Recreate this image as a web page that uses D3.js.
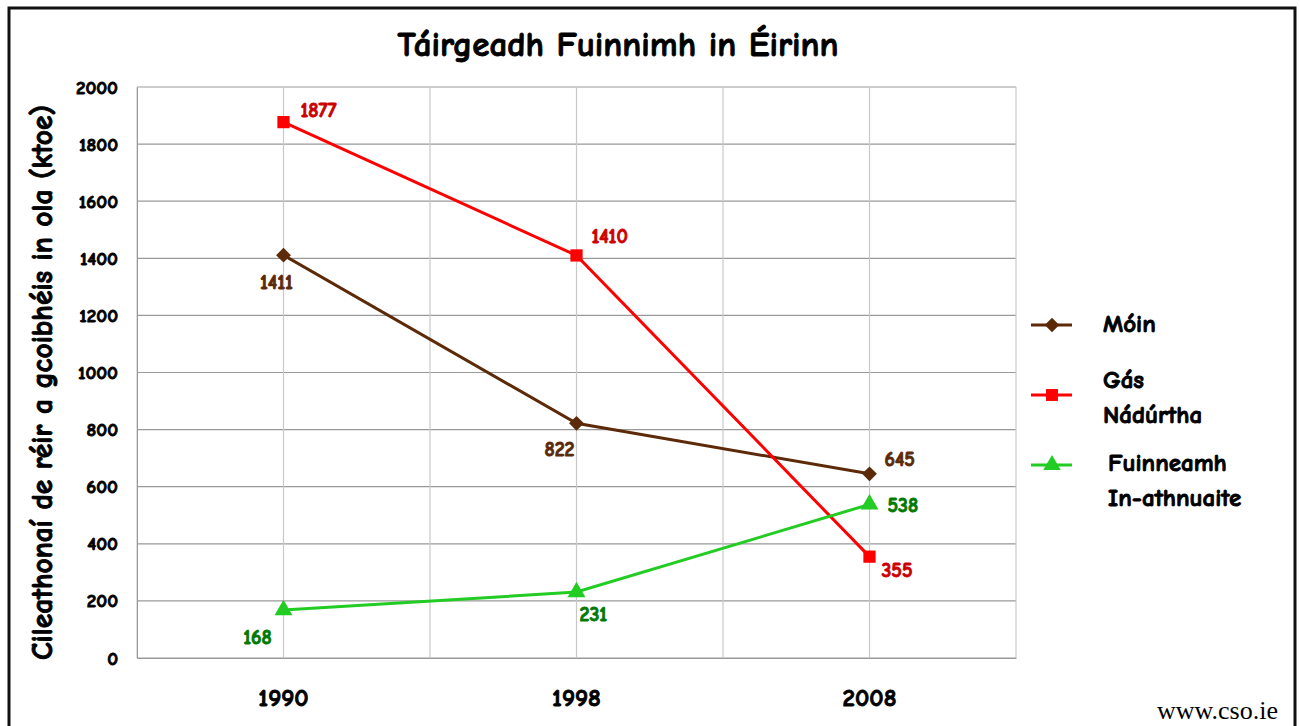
<!DOCTYPE html>
<html>
<head>
<meta charset="utf-8">
<script src="https://cdn.jsdelivr.net/npm/d3@7"></script>
<style>
  body { margin: 0; background: #fff; }
  svg text { font-family: "Comic Sans MS", "Comic Neue", "DejaVu Sans", sans-serif; font-weight: bold; }
  svg text.fb { stroke: currentColor; stroke-width: 0.9; paint-order: stroke; }
</style>
</head>
<body>
<div id="chart-container"></div>
<script>
const years = ["1990", "1998", "2008"];
const moin = [1411, 822, 645];
const gas = [1877, 1410, 355];
const fuinneamh = [168, 231, 538];
const seriesNames = ["Móin", "Gás Nádúrtha", "Fuinneamh In-athnuaite"];
const yTicks = [0, 200, 400, 600, 800, 1000, 1200, 1400, 1600, 1800, 2000];

const w = 1300, h = 726;
const plotLeft = 137, plotRight = 1016, plotTop = 87, plotBottom = 658;

const series = [
  { name: seriesNames[0], values: moin, line: "#5c2a08", label: "#5c2a08", shape: "diamond", legend: ["Móin"] },
  { name: seriesNames[1], values: gas, line: "#ff0000", label: "#cc0000", shape: "square", legend: ["Gás", "Nádúrtha"] },
  { name: seriesNames[2], values: fuinneamh, line: "#22cc22", label: "#007a00", shape: "triangle", legend: ["Fuinneamh", "In-athnuaite"] }
];

const xScale = d3.scaleBand().domain(years).range([plotLeft, plotRight]);
const yScale = d3.scaleLinear().domain([0, 2000]).range([plotBottom, plotTop]);
const xc = d => xScale(d) + xScale.bandwidth() / 2;

// marker path + extra rotation
function marker(shape, k) {
  if (shape === "diamond") return { d: d3.symbol().type(d3.symbolSquare).size(110 * k)(), rot: 45 };
  if (shape === "square") return { d: d3.symbol().type(d3.symbolSquare).size(150 * k)(), rot: 0 };
  return { d: d3.symbol().type(d3.symbolTriangle).size(140 * k)(), rot: 0 };
}

const svg = d3.select("#chart-container").append("svg")
  .attr("width", w).attr("height", h);

// outer frame (no bottom edge)
svg.append("path")
  .attr("d", "M9,726 V8 H1295 V726")
  .attr("fill", "none").attr("stroke", "#111").attr("stroke-width", 3);

svg.append("text").attr("class", "fb")
  .attr("x", 618).attr("y", 56)
  .attr("text-anchor", "middle")
  .attr("font-size", 35)
  .style("color", "#000")
  .text("Táirgeadh Fuinnimh in Éirinn");

// grid
const grid = svg.append("g");
grid.selectAll(".hg").data(yTicks).enter().append("line")
  .attr("x1", plotLeft).attr("x2", plotRight)
  .attr("y1", d => yScale(d)).attr("y2", d => yScale(d))
  .attr("stroke", "#999").attr("stroke-width", 1.2);
const vLines = [];
years.forEach(y => { vLines.push(xScale(y)); vLines.push(xc(y)); });
vLines.push(plotRight);
grid.selectAll(".vg").data(vLines).enter().append("line")
  .attr("x1", d => d).attr("x2", d => d)
  .attr("y1", plotTop).attr("y2", plotBottom)
  .attr("stroke", "#c8c8c8").attr("stroke-width", 1.2);

// axes
const yAxis = d3.axisLeft(yScale).tickValues(yTicks).tickSize(0).tickPadding(19).tickFormat(d3.format("d"));
svg.append("g").attr("transform", "translate(" + plotLeft + ",0)").call(yAxis)
  .call(g => g.select(".domain").attr("stroke", "#999"))
  .selectAll("text").attr("class", "fb").attr("font-size", 19).attr("fill", "#000").style("color", "#000");

const xAxis = d3.axisBottom(xScale).tickSize(0).tickPadding(30);
svg.append("g").attr("transform", "translate(0," + plotBottom + ")").call(xAxis)
  .call(g => g.select(".domain").attr("stroke", "#999"))
  .selectAll("text").attr("class", "fb").attr("font-size", 25).attr("fill", "#000").style("color", "#000");

svg.append("text").attr("class", "fb")
  .attr("transform", "translate(52," + ((plotTop + plotBottom) / 2 + 10) + ") rotate(-90)")
  .attr("text-anchor", "middle")
  .attr("font-size", 29.5)
  .style("color", "#000")
  .text("Cileathonaí de réir a gcoibhéis in ola (ktoe)");

// lines
const line = d3.line().x((d, i) => xc(years[i])).y(d => yScale(d));
series.forEach(s => {
  svg.append("path").datum(s.values)
    .attr("d", line).attr("fill", "none")
    .attr("stroke", s.line).attr("stroke-width", 3);
});
series.forEach(s => {
  const m = marker(s.shape, 1);
  svg.selectAll(null).data(s.values).enter().append("path")
    .attr("d", m.d)
    .attr("transform", (d, i) => "translate(" + xc(years[i]) + "," + yScale(d) + ") rotate(" + m.rot + ")")
    .attr("fill", s.line);
});

// data labels: dx, dy, anchor
const labelOffsets = [
  [[-7, 34, "middle"], [-17, 33, "middle"], [15, -8, "start"]],
  [[17, -5, "start"], [15, -12, "start"], [12, 20, "start"]],
  [[-26, 34, "middle"], [3, 29, "start"], [18, 8, "start"]]
];
series.forEach((s, si) => {
  svg.selectAll(null).data(s.values).enter().append("text")
    .attr("class", "fb")
    .attr("x", (d, i) => xc(years[i]) + labelOffsets[si][i][0])
    .attr("y", (d, i) => yScale(d) + labelOffsets[si][i][1])
    .attr("text-anchor", (d, i) => labelOffsets[si][i][2])
    .attr("font-size", 20)
    .attr("fill", s.label)
    .style("color", s.label)
    .text(d => d);
});

// legend
const legendY = [325, 395, 465];
const legendTextX = [1103, 1103, 1108];
const legendLineDy = [[7], [-7, 28], [6, 41]];
const lg = svg.append("g");
series.forEach((s, i) => {
  const g = lg.append("g").attr("transform", "translate(0," + legendY[i] + ")");
  g.append("line").attr("x1", 1031).attr("x2", 1072).attr("stroke", s.line).attr("stroke-width", 3);
  const m = marker(s.shape, 0.95);
  g.append("path")
    .attr("d", m.d)
    .attr("transform", "translate(1052,0) rotate(" + m.rot + ")")
    .attr("fill", s.line);
  const t = g.append("text").attr("class", "fb").attr("x", legendTextX[i])
    .attr("font-size", 25).attr("fill", "#000").style("color", "#000");
  s.legend.forEach((l, j) => {
    t.append("tspan").attr("x", legendTextX[i]).attr("y", legendLineDy[i][j]).text(l);
  });
});

svg.append("text")
  .attr("x", 1278).attr("y", 719)
  .attr("text-anchor", "end")
  .attr("font-size", 26)
  .style("font-family", "'Liberation Serif', 'Times New Roman', serif")
  .style("font-weight", "normal")
  .text("www.cso.ie");
</script>
</body>
</html>
